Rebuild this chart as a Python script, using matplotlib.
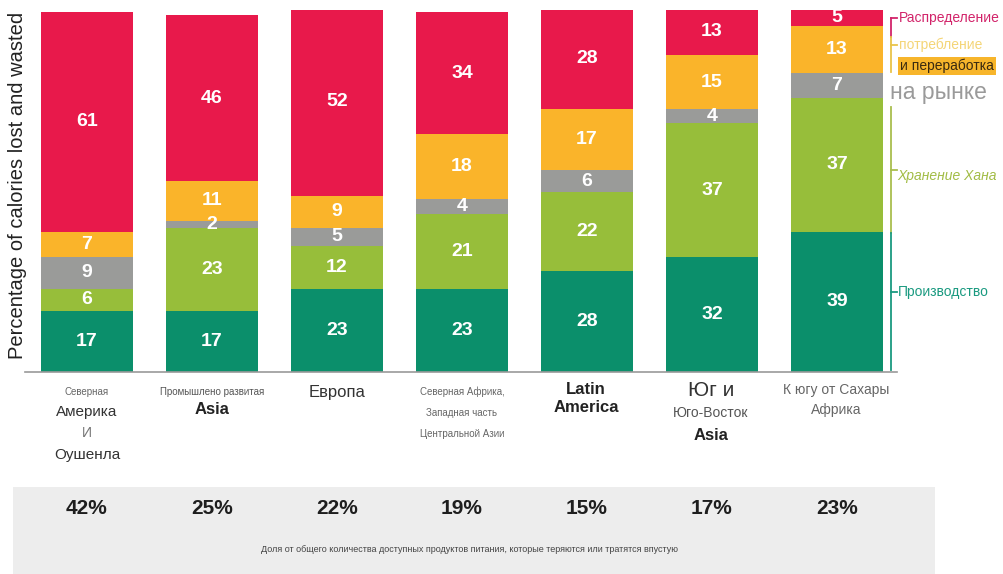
import matplotlib
matplotlib.use("Agg")
import matplotlib.pyplot as plt
from matplotlib import font_manager
from matplotlib.patches import Rectangle

# Data: share of calories lost and wasted at each stage, by region
regions = ["Северная Америка и Оушенла", "Промышлено развитая Asia", "Европа",
           "Северная Африка, Западная часть Центральной Азии", "Latin America",
           "Юг и Юго-Восток Asia", "К югу от Сахары Африка"]
production = [17, 17, 23, 23, 28, 32, 39]
storage = [6, 23, 12, 21, 22, 37, 37]
market = [9, 2, 5, 4, 6, 4, 7]
processing = [7, 11, 9, 18, 17, 15, 13]
distribution = [61, 46, 52, 34, 28, 13, 5]
total_share = ["42%", "25%", "22%", "19%", "15%", "17%", "23%"]

stages = [production, storage, market, processing, distribution]
colors = ["#0B8F6B", "#97BE3A", "#9A9B99", "#FAB42A", "#E8194B"]

available = {f.name for f in font_manager.fontManager.ttflist}
narrow = "Liberation Sans Narrow" if "Liberation Sans Narrow" in available else "Liberation Sans"
base = "Liberation Sans"
plt.rcParams["font.family"] = [base, "DejaVu Sans"]

W, H = 1004, 574
fig = plt.figure(figsize=(W / 100, H / 100), dpi=100)

# axes placement in pixels
ax_left, ax_right, ax_top, ax_bottom = 25, 897, 10, 372
ax = fig.add_axes([ax_left / W, 1 - ax_bottom / H, (ax_right - ax_left) / W, (ax_bottom - ax_top) / H])

x = list(range(len(regions)))
bottoms = [0] * len(regions)
for vals, col in zip(stages, colors):
    ax.bar(x, vals, bottom=bottoms, width=0.736, color=col, edgecolor="none")
    for i, v in enumerate(vals):
        ax.text(i, bottoms[i] + v / 2, str(v), ha="center", va="center", color="white",
                fontsize=14, fontweight="bold", family=[narrow, "DejaVu Sans"])
    bottoms = [b + v for b, v in zip(bottoms, vals)]

ax.set_xlim(-0.496, 6.48)
ax.set_ylim(0, 100.5)
for s in ["top", "right", "left"]:
    ax.spines[s].set_visible(False)
ax.spines["bottom"].set_color("#999999")
ax.spines["bottom"].set_linewidth(1.2)
ax.set_xticks([])
ax.set_yticks([])

fig.text(18 / W, 1 - 185 / H, "Percentage of calories lost and wasted", rotation=90,
         ha="center", va="center", fontsize=14.5, color="#222222")


def px(xp, yp):
    return xp / W, 1 - yp / H


# region labels below the axis: (text, x, y, size, color, weight, family)
label_parts = [
    ("Северная", 87, 392, 7, "#666666", "normal", narrow),
    ("Америка", 87, 412, 11, "#333333", "normal", base),
    ("И", 87, 433, 10, "#777777", "normal", base),
    ("Оушенла", 87, 455, 11, "#333333", "normal", base),
    ("Промышлено развитая", 212, 392, 7, "#555555", "normal", narrow),
    ("Asia", 212, 410, 12, "#222222", "bold", narrow),
    ("Европа", 337, 392, 12, "#333333", "normal", base),
    ("Северная Африка,", 462, 392, 7, "#666666", "normal", narrow),
    ("Западная часть", 462, 413, 7, "#666666", "normal", narrow),
    ("Центральной Азии", 462, 434, 7, "#666666", "normal", narrow),
    ("Latin", 586, 389, 12, "#222222", "bold", narrow),
    ("America", 586, 407, 12, "#222222", "bold", narrow),
    ("Юг и", 711, 391, 15, "#333333", "normal", base),
    ("Юго-Восток", 711, 413, 10, "#555555", "normal", base),
    ("Asia", 711, 435, 12, "#222222", "bold", narrow),
    ("К югу от Сахары", 836, 390, 10, "#666666", "normal", narrow),
    ("Африка", 836, 410, 10, "#666666", "normal", narrow),
]
for t, xp, yp, fs, c, fw, fam in label_parts:
    fig.text(*px(xp, yp), t, ha="center", va="center", fontsize=fs, color=c,
             fontweight=fw, family=[fam, "DejaVu Sans"])

# stage bracket on the right
bracket_x = 891
segments = [(18, 37, "#D2246A"), (37, 72, "#E9C44A"), (107, 233, "#A9BE4E"), (233, 370, "#1A9A80")]
for y0, y1, c in segments:
    fig.add_artist(plt.Line2D([bracket_x / W] * 2, [1 - y0 / H, 1 - y1 / H], color=c, lw=1.3))
ticks = [(18, "#D2246A"), (45, "#E9C44A"), (170, "#A9BE4E"), (292, "#1A9A80")]
for yp, c in ticks:
    fig.add_artist(plt.Line2D([bracket_x / W, (bracket_x + 6) / W], [1 - yp / H] * 2, color=c, lw=1.3))

fig.text(*px(899, 18), "Распределение", ha="left", va="center", fontsize=10, color="#D2246A",
         family=[narrow, "DejaVu Sans"])
fig.text(*px(899, 45), "потребление", ha="left", va="center", fontsize=10, color="#F2CB55",
         family=[narrow, "DejaVu Sans"], alpha=0.8)
fig.text(*px(900, 66), "и переработка", ha="left", va="center", fontsize=10, color="#3A2A10",
         family=[narrow, "DejaVu Sans"],
         bbox=dict(boxstyle="square,pad=0.15", fc="#F7B52B", ec="none"))
fig.text(*px(890, 93), "на рынке", ha="left", va="center", fontsize=16.5, color="#9A9A9A",
         family=[base, "DejaVu Sans"])
fig.text(*px(897, 176), "Хранение Хана", ha="left", va="center", fontsize=10, color="#A2BC45",
         style="italic", family=[narrow, "DejaVu Sans"])
fig.text(*px(898, 292), "Производство", ha="left", va="center", fontsize=10, color="#1A9A80",
         family=[narrow, "DejaVu Sans"])

# bottom panel with overall share per region
fig.add_artist(Rectangle((13 / W, 0), (935 - 13) / W, (H - 487) / H, transform=fig.transFigure,
                         facecolor="#EDEDED", edgecolor="none", zorder=0))
for i, s in enumerate(total_share):
    xp = 87 + 125 * i
    fig.text(*px(xp, 509), s, ha="center", va="center", fontsize=15, fontweight="bold",
             color="#1E1E1E", family=[narrow, "DejaVu Sans"])
fig.text(*px(470, 550),
         "Доля от общего количества доступных продуктов питания, которые теряются или тратятся впустую",
         ha="center", va="center", fontsize=6.5, color="#444444", family=[narrow, "DejaVu Sans"])

fig.savefig("out.png", dpi=100)
